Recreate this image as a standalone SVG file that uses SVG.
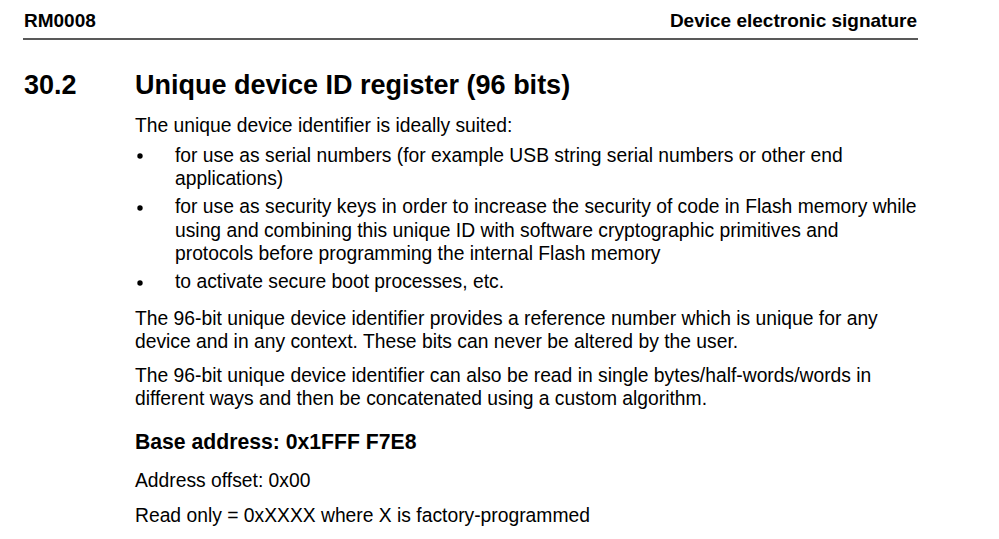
<svg xmlns="http://www.w3.org/2000/svg" width="999" height="539" viewBox="0 0 999 539">
<style>
text{font-family:"Liberation Sans",Arial,sans-serif;fill:#000}
.h{font-size:19px;font-weight:bold}
.t{font-size:27px;font-weight:bold}
.b{font-size:19.3px}
.bb{font-size:21.2px;font-weight:bold}
</style>
<rect width="999" height="539" fill="#fff"/>
<g id="header">
<text class="h" x="24" y="26.5">RM0008</text>
<text class="h" x="917" y="26.5" text-anchor="end">Device electronic signature</text>
<line x1="23" y1="39" x2="918" y2="39" stroke="#222" stroke-width="1.4"/>
</g>
<g id="title">
<text class="t" x="24" y="93.5">30.2</text>
<text class="t" x="135" y="93.5">Unique device ID register (96 bits)</text>
</g>
<g id="body">
<text class="b" x="135" y="132">The unique device identifier is ideally suited:</text>
<circle cx="140" cy="156" r="2.7"/>
<text class="b" x="175" y="162">for use as serial numbers (for example USB string serial numbers or other end</text>
<text class="b" x="175" y="185">applications)</text>
<circle cx="140" cy="208" r="2.7"/>
<text class="b" x="175" y="213">for use as security keys in order to increase the security of code in Flash memory while</text>
<text class="b" x="175" y="237">using and combining this unique ID with software cryptographic primitives and</text>
<text class="b" x="175" y="260">protocols before programming the internal Flash memory</text>
<circle cx="140" cy="283" r="2.7"/>
<text class="b" x="175" y="288">to activate secure boot processes, etc.</text>
<text class="b" x="135" y="325">The 96-bit unique device identifier provides a reference number which is unique for any</text>
<text class="b" x="135" y="348">device and in any context. These bits can never be altered by the user.</text>
<text class="b" x="135" y="382">The 96-bit unique device identifier can also be read in single bytes/half-words/words in</text>
<text class="b" x="135" y="405">different ways and then be concatenated using a custom algorithm.</text>
<text class="bb" x="135" y="449">Base address: 0x1FFF F7E8</text>
<text class="b" x="135" y="487">Address offset: 0x00</text>
<text class="b" x="135" y="522">Read only = 0xXXXX where X is factory-programmed</text>
</g>
</svg>
